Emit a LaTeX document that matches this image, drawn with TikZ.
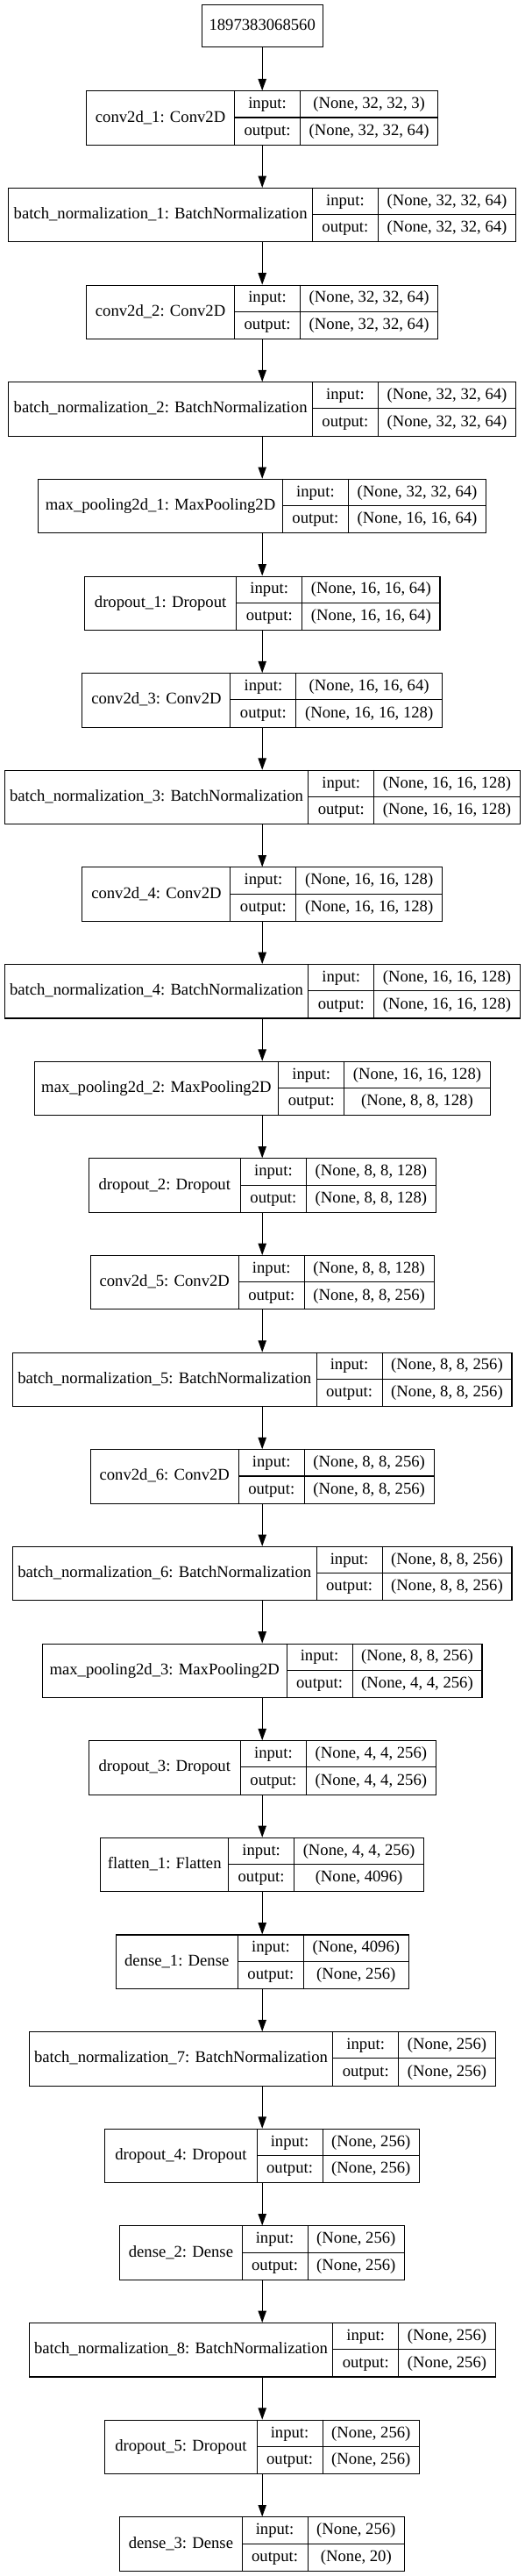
\documentclass[tikz,border=0pt]{standalone}
\usepackage{fontspec}
\setmainfont{Liberation Serif}
\usetikzlibrary{arrows.meta}
\newlength\dA \newlength\dB \newlength\dC \newlength\dT
\newlength\xL \newlength\xA \newlength\xB \newlength\xR
\newcommand\lfont{\fontsize{14}{16.8}\selectfont}
\tikzset{
 rec/.style={draw=black, line width=0.8pt, inner sep=0pt, minimum height=46.05pt},
 txt/.style={font=\lfont, inner sep=0pt, text height=10pt, text depth=2.5pt, anchor=center},
 sepline/.style={draw=black, line width=0.8pt},
 arr/.style={draw=black, line width=0.8pt, -{Triangle[length=10pt,width=7pt]}},
 meas/.style={inner sep=0pt, outer sep=0pt, font=\lfont},
}
% #1 index, #2 width of the name field (pt), #3 name, #4 input, #5 output
\newcommand\layer[5]{%
 \node[meas] (M#1) at (224.4pt,-1000pt) {%
   \setbox0\hbox{#4}\global\dC=\wd0
   \setbox0\hbox{#5}\ifdim\wd0>\dC \global\dC=\wd0 \fi};
 \setlength\dA{#2pt}\setlength\dB{56.2pt}\addtolength\dC{15.3pt}%
 \setlength\xL{\dimexpr 224.4pt-(\dA+\dB+\dC)/2\relax}%
 \setlength\xA{\dimexpr\xL+\dA\relax}%
 \setlength\xB{\dimexpr\xA+\dB\relax}%
 \setlength\xR{\dimexpr\xB+\dC\relax}%
 \setlength\dT{\dimexpr\dA+\dB+\dC\relax}%
 \edef\cN{\the\dimexpr(\xL+\xA)/2\relax}%
 \edef\cL{\the\dimexpr(\xA+\xB)/2\relax}%
 \edef\cV{\the\dimexpr(\xB+\xR)/2\relax}%
 \edef\wT{\the\dT}%
 \pgfmathsetmacro\yT{-(103.3+110.64*#1)*0.75}%
 \pgfmathsetmacro\yB{\yT-46.05}%
 \pgfmathsetmacro\yM{\yT-23.025}%
 \pgfmathsetmacro\yU{\yT-11.5125}%
 \pgfmathsetmacro\yD{\yT-34.5375}%
 \node[rec, minimum width=\wT, anchor=north] (L#1) at (224.4pt,\yT pt) {};
 \draw[sepline] (\the\xA,\yT pt) -- (\the\xA,\yB pt);
 \draw[sepline] (\the\xB,\yT pt) -- (\the\xB,\yB pt);
 \draw[sepline] (\the\xA,\yM pt) -- (\the\xR,\yM pt);
 \node[txt] (L#1n) at (\cN,\yM pt) {#3};
 \node[txt] (L#1il) at (\cL,\yU pt) {input:};
 \node[txt] (L#1ol) at (\cL,\yD pt) {output:};
 \node[txt] (L#1i) at (\cV,\yU pt) {#4};
 \node[txt] (L#1o) at (\cV,\yD pt) {#5};
}
\def\wconv{126.75}\def\wbn{260.0}\def\wmp{209.0}\def\wdrop{130.0}\def\wflat{109.3}\def\wdense{104.5}
\begin{document}
\begin{tikzpicture}
\useasboundingbox (0,0) rectangle (449.25pt,-2202.75pt);
\node[rec, txt, minimum width=103.7pt, minimum height=35.7pt] (inp) at (224.4pt,-22.125pt) {1897383068560};
\layer{0}{\wconv}{conv2d\_1: Conv2D}{(None, 32, 32, 3)}{(None, 32, 32, 64)}
\layer{1}{\wbn}{batch\_normalization\_1: BatchNormalization}{(None, 32, 32, 64)}{(None, 32, 32, 64)}
\layer{2}{\wconv}{conv2d\_2: Conv2D}{(None, 32, 32, 64)}{(None, 32, 32, 64)}
\layer{3}{\wbn}{batch\_normalization\_2: BatchNormalization}{(None, 32, 32, 64)}{(None, 32, 32, 64)}
\layer{4}{\wmp}{max\_pooling2d\_1: MaxPooling2D}{(None, 32, 32, 64)}{(None, 16, 16, 64)}
\layer{5}{\wdrop}{dropout\_1: Dropout}{(None, 16, 16, 64)}{(None, 16, 16, 64)}
\layer{6}{\wconv}{conv2d\_3: Conv2D}{(None, 16, 16, 64)}{(None, 16, 16, 128)}
\layer{7}{\wbn}{batch\_normalization\_3: BatchNormalization}{(None, 16, 16, 128)}{(None, 16, 16, 128)}
\layer{8}{\wconv}{conv2d\_4: Conv2D}{(None, 16, 16, 128)}{(None, 16, 16, 128)}
\layer{9}{\wbn}{batch\_normalization\_4: BatchNormalization}{(None, 16, 16, 128)}{(None, 16, 16, 128)}
\layer{10}{\wmp}{max\_pooling2d\_2: MaxPooling2D}{(None, 16, 16, 128)}{(None, 8, 8, 128)}
\layer{11}{\wdrop}{dropout\_2: Dropout}{(None, 8, 8, 128)}{(None, 8, 8, 128)}
\layer{12}{\wconv}{conv2d\_5: Conv2D}{(None, 8, 8, 128)}{(None, 8, 8, 256)}
\layer{13}{\wbn}{batch\_normalization\_5: BatchNormalization}{(None, 8, 8, 256)}{(None, 8, 8, 256)}
\layer{14}{\wconv}{conv2d\_6: Conv2D}{(None, 8, 8, 256)}{(None, 8, 8, 256)}
\layer{15}{\wbn}{batch\_normalization\_6: BatchNormalization}{(None, 8, 8, 256)}{(None, 8, 8, 256)}
\layer{16}{\wmp}{max\_pooling2d\_3: MaxPooling2D}{(None, 8, 8, 256)}{(None, 4, 4, 256)}
\layer{17}{\wdrop}{dropout\_3: Dropout}{(None, 4, 4, 256)}{(None, 4, 4, 256)}
\layer{18}{\wflat}{flatten\_1: Flatten}{(None, 4, 4, 256)}{(None, 4096)}
\layer{19}{\wdense}{dense\_1: Dense}{(None, 4096)}{(None, 256)}
\layer{20}{\wbn}{batch\_normalization\_7: BatchNormalization}{(None, 256)}{(None, 256)}
\layer{21}{\wdrop}{dropout\_4: Dropout}{(None, 256)}{(None, 256)}
\layer{22}{\wdense}{dense\_2: Dense}{(None, 256)}{(None, 256)}
\layer{23}{\wbn}{batch\_normalization\_8: BatchNormalization}{(None, 256)}{(None, 256)}
\layer{24}{\wdrop}{dropout\_5: Dropout}{(None, 256)}{(None, 256)}
\layer{25}{\wdense}{dense\_3: Dense}{(None, 256)}{(None, 20)}
\draw[arr] (inp.south) -- (L0.north);
\foreach \i in {1,...,25}{%
 \pgfmathtruncatemacro\j{\i-1}%
 \draw[arr] (L\j.south) -- (L\i.north);
}
\end{tikzpicture}
\end{document}
